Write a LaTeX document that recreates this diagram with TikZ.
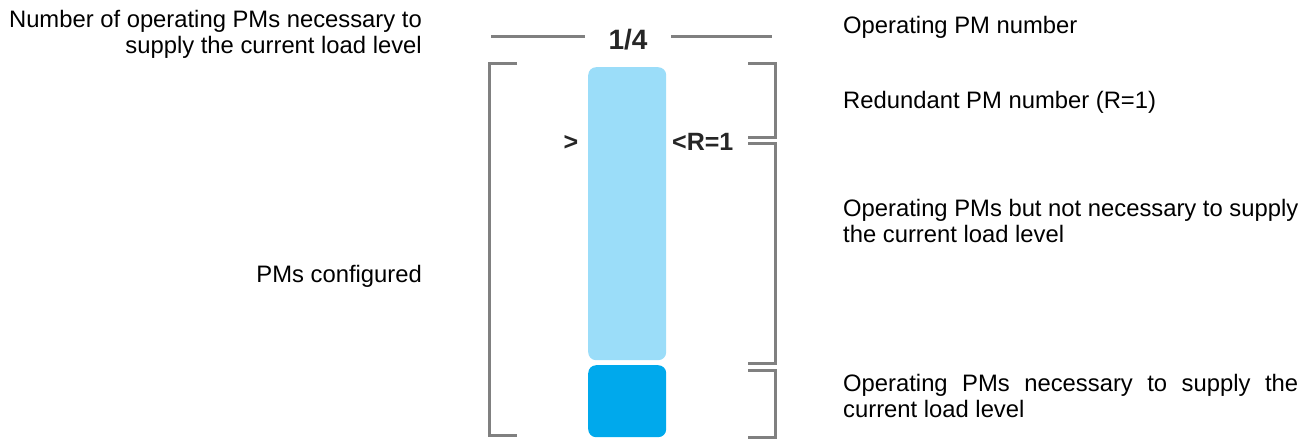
\documentclass[tikz,border=0pt]{standalone}
\usepackage{fontspec}
\setmainfont{Liberation Sans}
\begin{document}
\begin{tikzpicture}[x=1pt,y=-1pt,
  lbl/.style={inner sep=0pt, font=\fontsize{23.8}{26}\selectfont},
  num/.style={inner sep=0pt, font=\bfseries\fontsize{25}{28}\selectfont, text=black!85},
  brk/.style={draw=black!50, line width=3pt},
  barbox/.style={inner sep=0pt, rounded corners=8pt, minimum width=78pt}
]
\useasboundingbox (0,0) rectangle (1316,439);
\definecolor{lightbar}{HTML}{9BDDF9}
\definecolor{darkbar}{HTML}{00A9EC}

% bars
\node[barbox, fill=lightbar, minimum height=293pt, anchor=north west] (light) at (588,67) {};
\node[barbox, fill=darkbar, minimum height=72pt, anchor=north west] (dark) at (588,365) {};

% top label
\node[num, font=\bfseries\fontsize{28}{30}\selectfont, anchor=base] (frac) at (628,49) {1/4};
\draw[brk] (491,36) -- (585,36);
\draw[brk] (671,36) -- (772,36);

% left bracket
\draw[brk] (517,63) -- (489,63) -- (489,435) -- (517,435);

% right brackets
\draw[brk] (748,63) -- (775,63) -- (775,137) -- (748,137);
\draw[brk] (748,143) -- (775,143) -- (775,363) -- (748,363);
\draw[brk] (748,370) -- (775,370) -- (775,437) -- (748,437);

% marks
\node[num, anchor=base] (gt) at (571,150) {>};
\node[num, anchor=base west] (rr) at (672,150) {<R=1};

% left texts
\node[lbl, anchor=east, align=right] (need) at (422,34) {Number of operating PMs necessary to\\supply the current load level};
\node[lbl, anchor=base east] (conf) at (422,282) {PMs configured};

% right texts
\node[lbl, anchor=base west] (opn) at (843,33) {Operating PM number};
\node[lbl, anchor=base west] (red) at (843,108) {Redundant PM number (R=1)};
\node[lbl, anchor=west, align=left] (notn) at (843,221) {Operating PMs but not necessary to supply\\the current load level};
\node[lbl, anchor=west, align=left] (nec) at (843,396) {\makebox[455pt][s]{Operating PMs necessary to supply the}\\current load level};
\end{tikzpicture}
\end{document}
